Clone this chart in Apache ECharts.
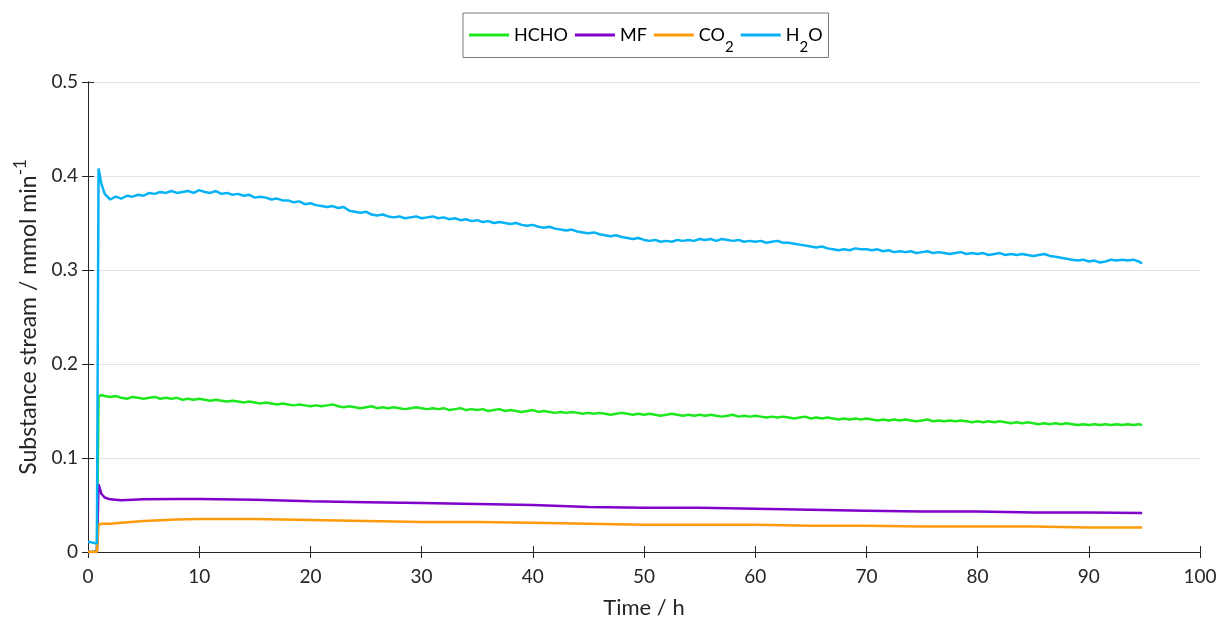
<!DOCTYPE html>
<html>
<head>
<meta charset="utf-8">
<script src="https://cdn.jsdelivr.net/npm/echarts@6/dist/echarts.min.js"></script>
<style>
  html, body { margin: 0; padding: 0; background: #fff; }
  #chart { width: 1223px; height: 619px; }
</style>
</head>
<body>
<div id="chart"></div>
<script>
const FONT = 'Lato, "Open Sans", sans-serif';
const TEXT_COLOR = '#262626';

// noisy signals (HCHO, H2O), read every half hour
const hours = [0, 0.4, 0.8, 0.95, 1.2, 1.5,
  2, 2.5, 3, 3.5, 4, 4.5, 5, 5.5, 6, 6.5, 7, 7.5, 8, 8.5, 9, 9.5,
  10, 10.5, 11, 11.5, 12, 12.5, 13, 13.5, 14, 14.5, 15, 15.5, 16, 16.5, 17, 17.5, 18, 18.5, 19, 19.5,
  20, 20.5, 21, 21.5, 22, 22.5, 23, 23.5, 24, 24.5, 25, 25.5, 26, 26.5, 27, 27.5, 28, 28.5, 29, 29.5,
  30, 30.5, 31, 31.5, 32, 32.5, 33, 33.5, 34, 34.5, 35, 35.5, 36, 36.5, 37, 37.5, 38, 38.5, 39, 39.5,
  40, 40.5, 41, 41.5, 42, 42.5, 43, 43.5, 44, 44.5, 45, 45.5, 46, 46.5, 47, 47.5, 48, 48.5, 49, 49.5,
  50, 50.5, 51, 51.5, 52, 52.5, 53, 53.5, 54, 54.5, 55, 55.5, 56, 56.5, 57, 57.5, 58, 58.5, 59, 59.5,
  60, 60.5, 61, 61.5, 62, 62.5, 63, 63.5, 64, 64.5, 65, 65.5, 66, 66.5, 67, 67.5, 68, 68.5, 69, 69.5,
  70, 70.5, 71, 71.5, 72, 72.5, 73, 73.5, 74, 74.5, 75, 75.5, 76, 76.5, 77, 77.5, 78, 78.5, 79, 79.5,
  80, 80.5, 81, 81.5, 82, 82.5, 83, 83.5, 84, 84.5, 85, 85.5, 86, 86.5, 87, 87.5, 88, 88.5, 89, 89.5,
  90, 90.5, 91, 91.5, 92, 92.5, 93, 93.5, 94, 94.5, 94.8];

const h2o = [0.011, 0.010, 0.009, 0.408, 0.392, 0.381,
  0.375, 0.378, 0.376, 0.379, 0.378, 0.380, 0.379, 0.382, 0.381, 0.383, 0.382, 0.384, 0.382, 0.383, 0.384, 0.382,
  0.385, 0.383, 0.382, 0.384, 0.381, 0.382, 0.380, 0.381, 0.379, 0.380, 0.377, 0.378, 0.377, 0.375, 0.376, 0.374, 0.374, 0.372, 0.373, 0.370,
  0.371, 0.369, 0.368, 0.367, 0.368, 0.366, 0.367, 0.363, 0.362, 0.361, 0.362, 0.359, 0.358, 0.359, 0.357, 0.356, 0.357, 0.355, 0.356, 0.357,
  0.355, 0.356, 0.357, 0.355, 0.356, 0.354, 0.355, 0.353, 0.354, 0.352, 0.353, 0.351, 0.352, 0.350, 0.351, 0.350, 0.349, 0.350, 0.348, 0.347,
  0.348, 0.346, 0.345, 0.346, 0.344, 0.343, 0.342, 0.343, 0.341, 0.340, 0.339, 0.340, 0.338, 0.337, 0.336, 0.337, 0.335, 0.334, 0.333, 0.334,
  0.332, 0.331, 0.332, 0.330, 0.331, 0.330, 0.332, 0.331, 0.332, 0.331, 0.333, 0.332, 0.333, 0.331, 0.333, 0.332, 0.331, 0.332, 0.330, 0.331,
  0.330, 0.331, 0.329, 0.330, 0.331, 0.329, 0.329, 0.328, 0.327, 0.326, 0.325, 0.324, 0.325, 0.323, 0.322, 0.321, 0.322, 0.321, 0.323, 0.322,
  0.322, 0.321, 0.322, 0.320, 0.321, 0.319, 0.320, 0.319, 0.320, 0.318, 0.319, 0.320, 0.318, 0.319, 0.318, 0.317, 0.318, 0.319, 0.317, 0.318,
  0.317, 0.318, 0.316, 0.317, 0.318, 0.316, 0.317, 0.316, 0.317, 0.316, 0.315, 0.316, 0.317, 0.315, 0.314, 0.313, 0.312, 0.311, 0.310, 0.311,
  0.309, 0.310, 0.308, 0.309, 0.311, 0.310, 0.311, 0.310, 0.311, 0.309, 0.307];

const hcho = [0, 0, 0.001, 0.165, 0.167, 0.166,
  0.165, 0.166, 0.164, 0.163, 0.165, 0.164, 0.163, 0.164, 0.165, 0.163, 0.164, 0.163, 0.164, 0.162, 0.163, 0.162,
  0.163, 0.162, 0.161, 0.162, 0.161, 0.160, 0.161, 0.160, 0.159, 0.160, 0.159, 0.158, 0.159, 0.158, 0.157, 0.158, 0.157, 0.156, 0.157, 0.156,
  0.155, 0.156, 0.155, 0.156, 0.157, 0.155, 0.154, 0.155, 0.154, 0.153, 0.154, 0.155, 0.153, 0.154, 0.153, 0.154, 0.153, 0.152, 0.153, 0.154,
  0.153, 0.152, 0.153, 0.152, 0.153, 0.151, 0.152, 0.153, 0.151, 0.152, 0.151, 0.152, 0.150, 0.151, 0.152, 0.150, 0.151, 0.150, 0.149, 0.150,
  0.151, 0.149, 0.150, 0.149, 0.148, 0.149, 0.148, 0.149, 0.148, 0.147, 0.148, 0.147, 0.148, 0.147, 0.146, 0.147, 0.148, 0.147, 0.146, 0.147,
  0.146, 0.147, 0.146, 0.145, 0.146, 0.147, 0.146, 0.145, 0.146, 0.145, 0.146, 0.145, 0.146, 0.145, 0.144, 0.145, 0.146, 0.144, 0.145, 0.144,
  0.145, 0.144, 0.143, 0.144, 0.143, 0.144, 0.143, 0.142, 0.143, 0.144, 0.142, 0.143, 0.142, 0.143, 0.142, 0.141, 0.142, 0.141, 0.142, 0.141,
  0.142, 0.141, 0.140, 0.141, 0.140, 0.141, 0.140, 0.141, 0.140, 0.139, 0.140, 0.141, 0.139, 0.140, 0.139, 0.140, 0.139, 0.140, 0.139, 0.138,
  0.139, 0.138, 0.139, 0.138, 0.139, 0.138, 0.137, 0.138, 0.137, 0.138, 0.137, 0.136, 0.137, 0.136, 0.137, 0.136, 0.137, 0.136, 0.135, 0.136,
  0.135, 0.136, 0.135, 0.136, 0.135, 0.136, 0.135, 0.136, 0.135, 0.136, 0.135];

// smooth signals (MF, CO2), read more sparsely
const smoothHours = [0, 0.8, 0.95, 1.2, 1.5, 2, 3, 5, 8, 10, 15, 20, 25, 30, 35, 40, 45, 50, 55, 60, 65, 70, 75, 80, 85, 90, 94.8];
const mf  = [0, 0, 0.072, 0.062, 0.058, 0.056, 0.055, 0.056, 0.0565, 0.0565, 0.0555, 0.054, 0.053, 0.052, 0.051, 0.050, 0.048, 0.047, 0.047, 0.046, 0.045, 0.044, 0.043, 0.043, 0.042, 0.042, 0.0415];
const co2 = [0, 0, 0.029, 0.030, 0.030, 0.030, 0.031, 0.033, 0.0345, 0.035, 0.035, 0.034, 0.033, 0.032, 0.032, 0.031, 0.030, 0.029, 0.029, 0.029, 0.028, 0.028, 0.027, 0.027, 0.027, 0.026, 0.026];

const seriesNames = ['HCHO', 'MF', 'CO2', 'H2O'];
const legendLabels = { HCHO: 'HCHO', MF: 'MF', CO2: 'CO{sub|2}', H2O: 'H{sub|2}O' };
const colors = ['#1de81d', '#8000cc', '#ff9a0a', '#05b2f5'];

function pairs(xs, ys) {
  return xs.map((x, i) => [x, ys[i]]);
}

const seriesData = [pairs(hours, hcho), pairs(smoothHours, mf), pairs(smoothHours, co2), pairs(hours, h2o)];

var chartDom = document.getElementById('chart');
var chart = echarts.init(chartDom);

var option = {
  animation: false,
  color: colors,
  textStyle: { fontFamily: FONT },
  legend: {
    top: 13,
    left: 463,
    data: seriesNames,
    icon: 'rect',
    itemWidth: 40,
    itemHeight: 3,
    itemGap: 7,
    padding: [13, 6, 3, 6],
    borderColor: '#7a7a7a',
    borderWidth: 1,
    formatter: function (name) { return legendLabels[name]; },
    textStyle: {
      fontFamily: FONT,
      fontSize: 18,
      color: '#000',
      rich: {
        sub: { fontSize: 15, fontFamily: FONT, color: '#000', padding: [24, 0, 0, 0] }
      }
    }
  },
  grid: { left: 88, right: 23, top: 82, bottom: 67, outerBoundsMode: 'none' },
  xAxis: [{
    type: 'value',
    min: 0,
    max: 100,
    interval: 10,
    name: 'Time / h',
    nameLocation: 'middle',
    nameGap: 45,
    nameTextStyle: { fontFamily: FONT, fontSize: 22, color: TEXT_COLOR },
    axisLine: { show: true, onZero: false, lineStyle: { color: '#262626', width: 1 } },
    axisTick: { show: true, inside: true, length: 6, lineStyle: { color: '#262626' } },
    axisLabel: { fontFamily: FONT, fontSize: 19, color: TEXT_COLOR, margin: 15 },
    splitLine: { show: false }
  }, {
    type: 'value',
    position: 'top',
    min: 0,
    max: 100,
    interval: 10,
    axisLine: { show: true, lineStyle: { color: '#262626', width: 1 } },
    axisTick: { show: true, inside: true, length: 6, lineStyle: { color: '#262626' } },
    axisLabel: { show: false },
    splitLine: { show: false }
  }],
  yAxis: [{
    type: 'value',
    min: 0,
    max: 0.5,
    interval: 0.1,
    name: 'Substance stream / mmol min{sup|-1}',
    nameLocation: 'middle',
    nameGap: 38,
    nameTextStyle: {
      fontFamily: FONT, fontSize: 23, color: TEXT_COLOR,
      rich: { sup: { fontSize: 17, fontFamily: FONT, color: TEXT_COLOR, padding: [0, 0, 18, 0] } }
    },
    axisLine: { show: true, lineStyle: { color: '#262626', width: 1 } },
    axisTick: { show: true, inside: true, length: 6, lineStyle: { color: '#262626' } },
    axisLabel: { fontFamily: FONT, fontSize: 19, color: TEXT_COLOR, margin: 10 },
    splitLine: { show: true, lineStyle: { color: '#e3e3e3', width: 1 } }
  }, {
    type: 'value',
    position: 'right',
    min: 0,
    max: 0.5,
    interval: 0.1,
    axisLine: { show: true, lineStyle: { color: '#262626', width: 1 } },
    axisTick: { show: true, inside: true, length: 6, lineStyle: { color: '#262626' } },
    axisLabel: { show: false },
    splitLine: { show: false }
  }],
  series: seriesNames.map((name, i) => ({
    name: name,
    type: 'line',
    xAxisIndex: 0,
    yAxisIndex: 0,
    showSymbol: false,
    symbol: 'none',
    smooth: false,
    lineStyle: { width: 2.5, color: colors[i] },
    data: seriesData[i]
  }))
};

chart.setOption(option);
</script>
</body>
</html>
